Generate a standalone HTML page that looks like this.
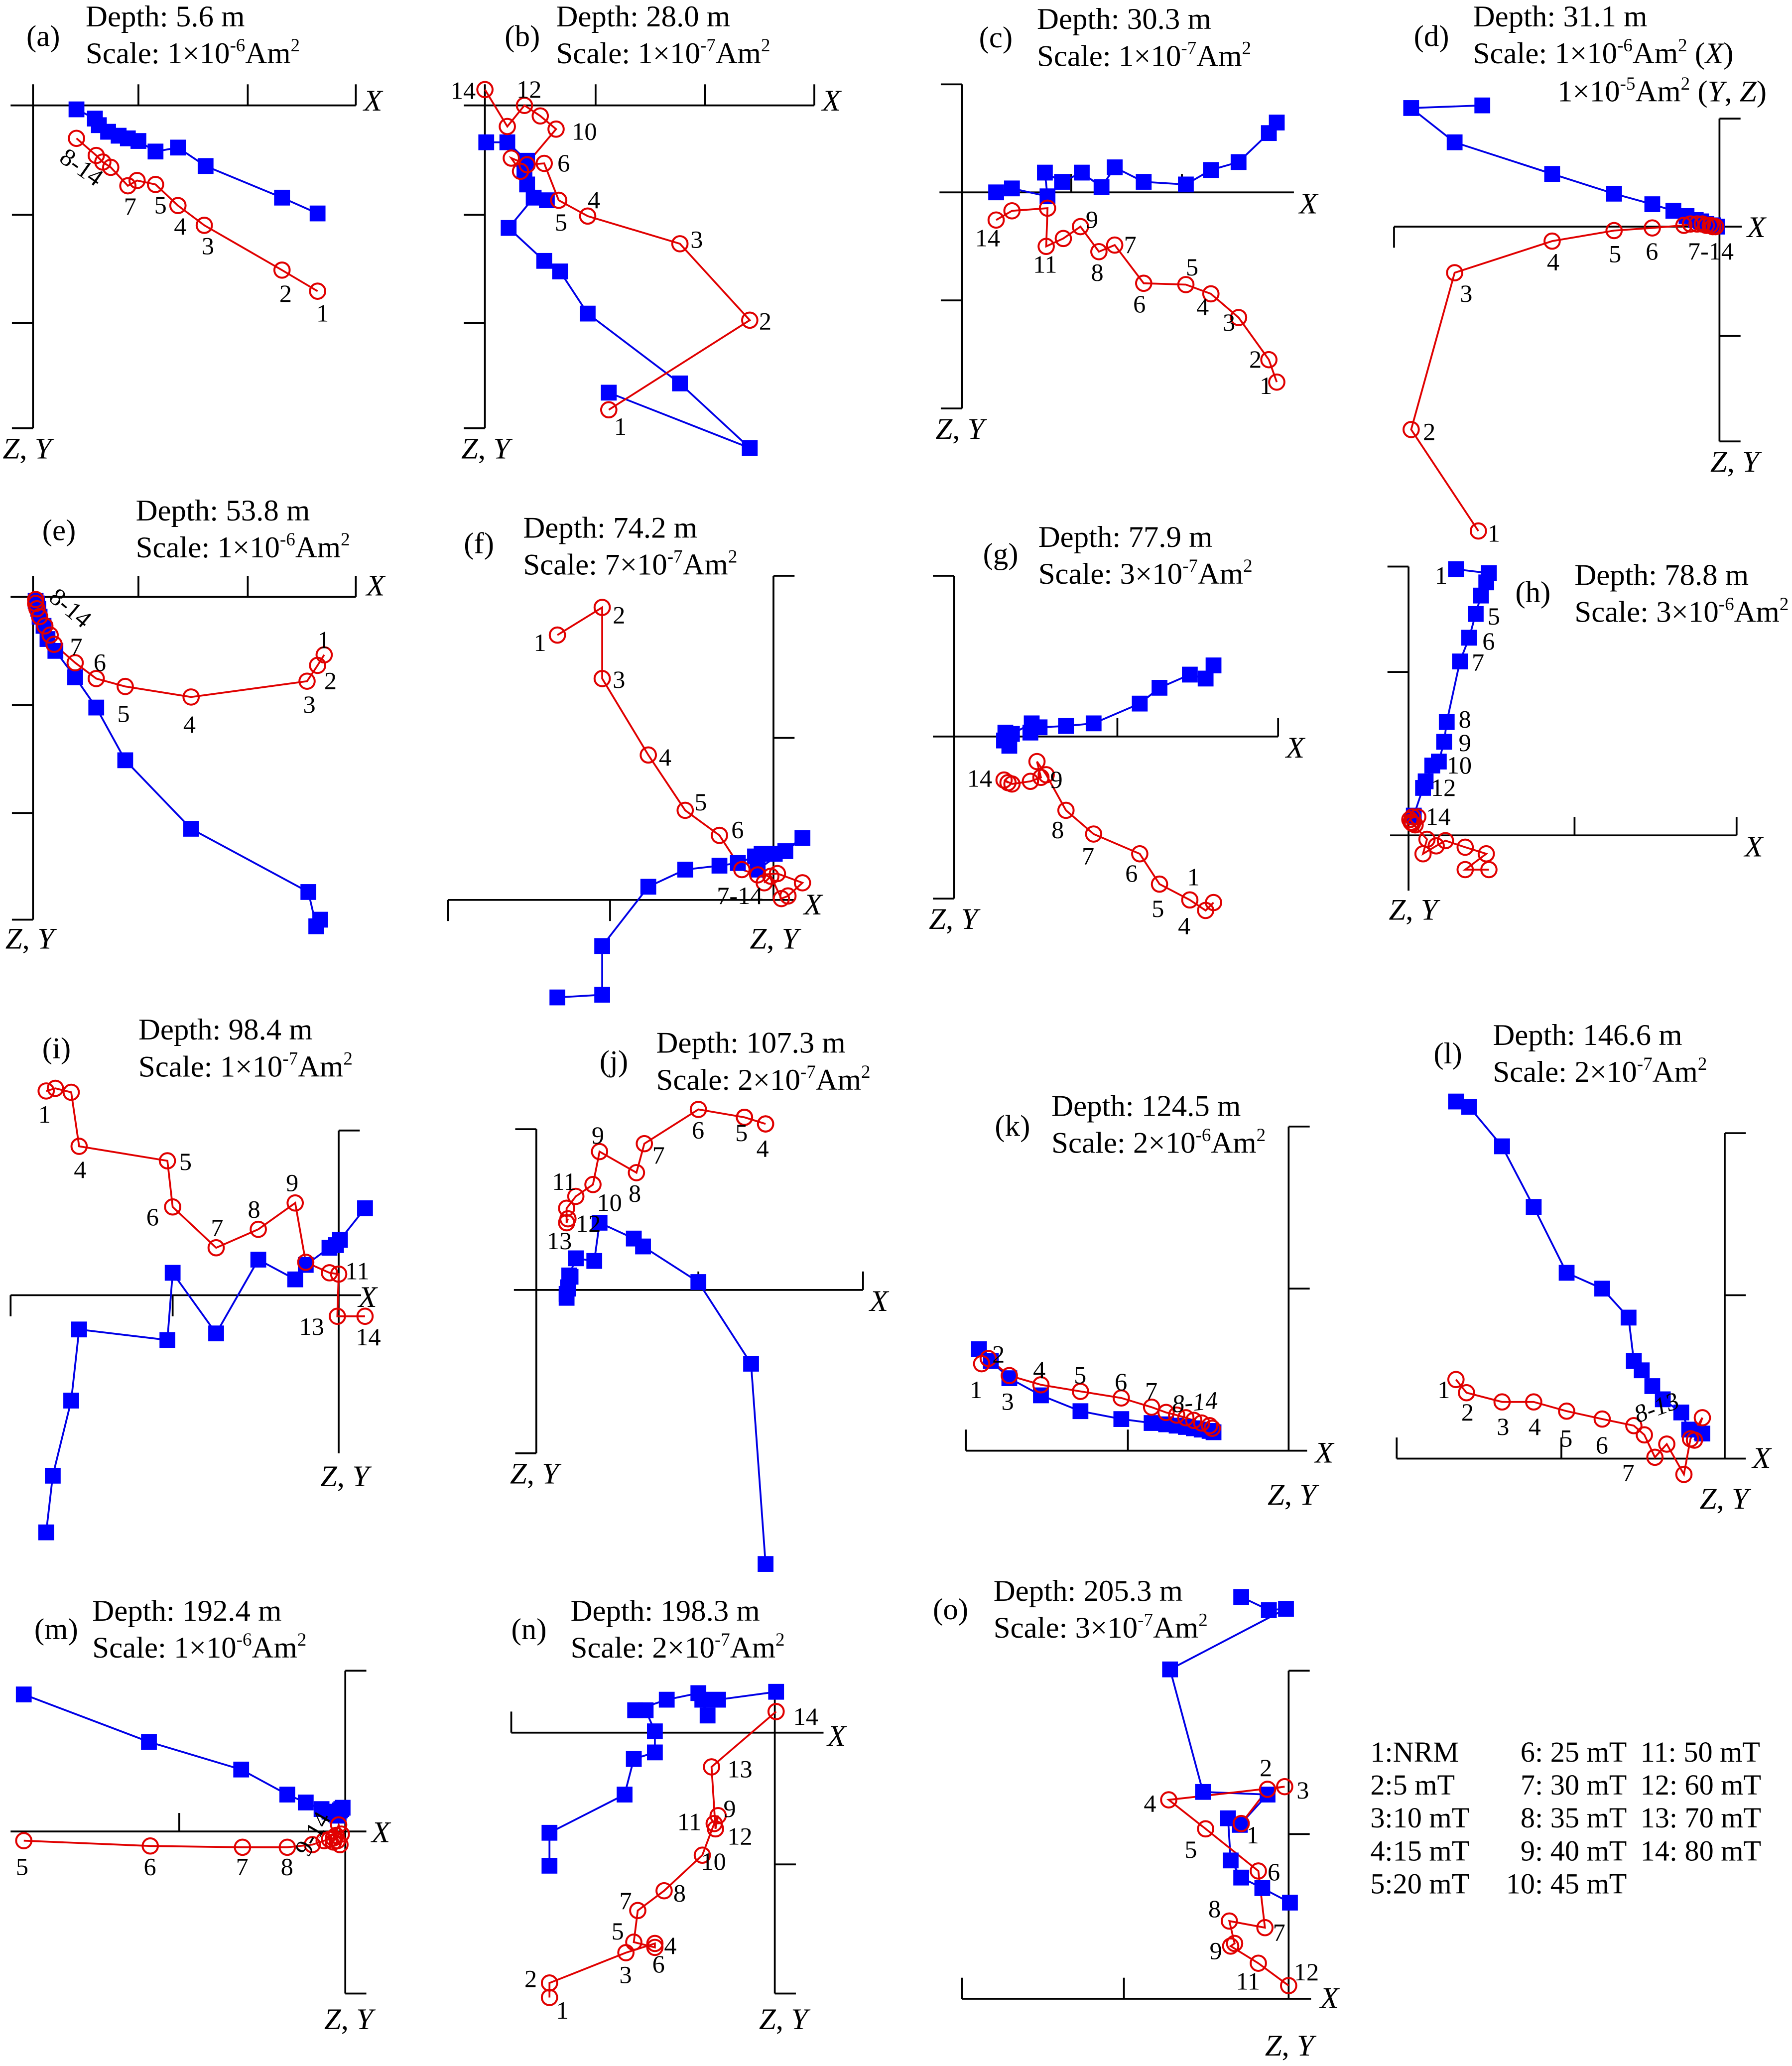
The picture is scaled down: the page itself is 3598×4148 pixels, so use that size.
<!DOCTYPE html>
<html><head><meta charset="utf-8"><style>
html,body{margin:0;padding:0;background:#fff;}
svg{display:block;}
text{font-family:"Liberation Serif",serif;fill:#000;}
.t{font-size:23px;}
.l{font-size:19px;}
.ax{font-size:23px;font-style:italic;}
.lg{font-size:22px;}
</style></head><body>
<svg id="fig" xmlns="http://www.w3.org/2000/svg" width="3598" height="4148" viewBox="0 0 1360 1568">
<rect width="1360" height="1568" fill="#fff"/>
<g id="axes" stroke="#000" stroke-width="1.4" fill="none"></g>
<g id="marks"></g>
<g id="texts">
<text class="t" x="20" y="35">(a)</text>
<text class="t" x="65" y="20">Depth: 5.6 m</text>
<text class="t" x="65" y="48">Scale: 1×10<tspan font-size="14" dy="-9">-6</tspan><tspan dy="9">Am</tspan><tspan font-size="14" dy="-9">2</tspan></text>
<text class="t" x="383" y="35">(b)</text>
<text class="t" x="422" y="20">Depth: 28.0 m</text>
<text class="t" x="422" y="48">Scale: 1×10<tspan font-size="14" dy="-9">-7</tspan><tspan dy="9">Am</tspan><tspan font-size="14" dy="-9">2</tspan></text>
<text class="t" x="743" y="36">(c)</text>
<text class="t" x="787" y="22">Depth: 30.3 m</text>
<text class="t" x="787" y="50">Scale: 1×10<tspan font-size="14" dy="-9">-7</tspan><tspan dy="9">Am</tspan><tspan font-size="14" dy="-9">2</tspan></text>
<text class="t" x="1073" y="35">(d)</text>
<text class="t" x="1118" y="20">Depth: 31.1 m</text>
<text class="t" x="1118" y="48">Scale: 1×10<tspan font-size="14" dy="-9">-6</tspan><tspan dy="9">Am</tspan><tspan font-size="14" dy="-9">2</tspan><tspan dy="9"> (</tspan><tspan font-style="italic">X</tspan>)</text>
<text class="t" x="1182" y="77">1×10<tspan font-size="14" dy="-9">-5</tspan><tspan dy="9">Am</tspan><tspan font-size="14" dy="-9">2</tspan><tspan dy="9"> (</tspan><tspan font-style="italic">Y</tspan>, <tspan font-style="italic">Z</tspan>)</text>
<text class="t" x="32" y="410">(e)</text>
<text class="t" x="103" y="395">Depth: 53.8 m</text>
<text class="t" x="103" y="423">Scale: 1×10<tspan font-size="14" dy="-9">-6</tspan><tspan dy="9">Am</tspan><tspan font-size="14" dy="-9">2</tspan></text>
<text class="t" x="352" y="420">(f)</text>
<text class="t" x="397" y="408">Depth: 74.2 m</text>
<text class="t" x="397" y="436">Scale: 7×10<tspan font-size="14" dy="-9">-7</tspan><tspan dy="9">Am</tspan><tspan font-size="14" dy="-9">2</tspan></text>
<text class="t" x="746" y="428">(g)</text>
<text class="t" x="788" y="415">Depth: 77.9 m</text>
<text class="t" x="788" y="443">Scale: 3×10<tspan font-size="14" dy="-9">-7</tspan><tspan dy="9">Am</tspan><tspan font-size="14" dy="-9">2</tspan></text>
<text class="t" x="1150" y="457">(h)</text>
<text class="t" x="1195" y="444">Depth: 78.8 m</text>
<text class="t" x="1195" y="472">Scale: 3×10<tspan font-size="14" dy="-9">-6</tspan><tspan dy="9">Am</tspan><tspan font-size="14" dy="-9">2</tspan></text>
<text class="t" x="32" y="803">(i)</text>
<text class="t" x="105" y="789">Depth: 98.4 m</text>
<text class="t" x="105" y="817">Scale: 1×10<tspan font-size="14" dy="-9">-7</tspan><tspan dy="9">Am</tspan><tspan font-size="14" dy="-9">2</tspan></text>
<text class="t" x="455" y="813">(j)</text>
<text class="t" x="498" y="799">Depth: 107.3 m</text>
<text class="t" x="498" y="827">Scale: 2×10<tspan font-size="14" dy="-9">-7</tspan><tspan dy="9">Am</tspan><tspan font-size="14" dy="-9">2</tspan></text>
<text class="t" x="755" y="862">(k)</text>
<text class="t" x="798" y="847">Depth: 124.5 m</text>
<text class="t" x="798" y="875">Scale: 2×10<tspan font-size="14" dy="-9">-6</tspan><tspan dy="9">Am</tspan><tspan font-size="14" dy="-9">2</tspan></text>
<text class="t" x="1088" y="807">(l)</text>
<text class="t" x="1133" y="793">Depth: 146.6 m</text>
<text class="t" x="1133" y="821">Scale: 2×10<tspan font-size="14" dy="-9">-7</tspan><tspan dy="9">Am</tspan><tspan font-size="14" dy="-9">2</tspan></text>
<text class="t" x="26" y="1244">(m)</text>
<text class="t" x="70" y="1230">Depth: 192.4 m</text>
<text class="t" x="70" y="1258">Scale: 1×10<tspan font-size="14" dy="-9">-6</tspan><tspan dy="9">Am</tspan><tspan font-size="14" dy="-9">2</tspan></text>
<text class="t" x="388" y="1244">(n)</text>
<text class="t" x="433" y="1230">Depth: 198.3 m</text>
<text class="t" x="433" y="1258">Scale: 2×10<tspan font-size="14" dy="-9">-7</tspan><tspan dy="9">Am</tspan><tspan font-size="14" dy="-9">2</tspan></text>
<text class="t" x="708" y="1229">(o)</text>
<text class="t" x="754" y="1215">Depth: 205.3 m</text>
<text class="t" x="754" y="1243">Scale: 3×10<tspan font-size="14" dy="-9">-7</tspan><tspan dy="9">Am</tspan><tspan font-size="14" dy="-9">2</tspan></text>

<g>
<text class="lg" x="1040" y="1337">1:NRM</text>
<text class="lg" x="1040" y="1362">2:5 mT</text>
<text class="lg" x="1040" y="1387">3:10 mT</text>
<text class="lg" x="1040" y="1412">4:15 mT</text>
<text class="lg" x="1040" y="1437">5:20 mT</text>
<text class="lg" x="1154" y="1337">6: 25 mT</text>
<text class="lg" x="1154" y="1362">7: 30 mT</text>
<text class="lg" x="1154" y="1387">8: 35 mT</text>
<text class="lg" x="1154" y="1412">9: 40 mT</text>
<text class="lg" x="1143" y="1437">10: 45 mT</text>
<text class="lg" x="1245" y="1337">11: 50 mT</text>
<text class="lg" x="1245" y="1362">12: 60 mT</text>
<text class="lg" x="1245" y="1387">13: 70 mT</text>
<text class="lg" x="1245" y="1412">14: 80 mT</text>
</g>
</g>
</svg>
<script>
const blueA=[[216,82],[189,70],[131,46],[110,32],[93,35],[80,27],[72,25],[65,23],[57,20],[50,15],[47,10],[33,3]];
const redA=[[216,141],[189,125],[130,91],[110,76],[93,60],[79,57],[72,61],[59,47],[53,43],[48,38],[33,25]];
const blueB=[[94,218],[201,260],[148,211],[78,158],[57,126],[45,118],[18,93],[37,70],[47,72],[32,60],[30,50],[32,42],[17,28],[1,28]];
const redB=[[94,231],[201,163],[148,105],[78,84],[56,72],[45,44],[32,45],[20,40],[27,50],[54,18],[42,8],[30,0],[17,16],[0,-12]];
const blueC=[[239,-53],[233,-45],[210,-23],[189,-17],[170,-6],[138,-8],[116,-19],[106,-4],[91,-15],[76,-8],[63,-15],[65,3],[38,-3],[26,0]];
const redC=[[239,144],[233,127],[210,95],[189,77],[170,70],[138,69],[116,40],[104,45],[90,26],[77,35],[64,41],[65,12],[38,14],[26,21]];
const blueD=[[-180,-92],[-234,-90],[-201,-64],[-127,-40],[-80,-25],[-51,-17],[-35,-12],[-25,-8],[-18,-5],[-14,-4],[-10,-2],[-7,-1],[-5,-1],[-2,0]];
const redD=[[-183,231],[-234,154],[-201,35],[-127,11],[-80,3],[-51,1],[-27,-1],[-22,-2],[-17,-2],[-13,-2],[-10,-1],[-7,-1],[-5,0],[-3,0]];
const blueE=[[218,245],[215,250],[209,224],[120,176],[70,124],[48,84],[32,61],[17,41],[11,32],[8,22],[5,15],[4,9],[3,5],[2,3]];
const redE=[[221,44],[216,52],[208,64],[120,76],[70,68],[48,62],[32,50],[16,36],[13,29],[9,22],[5,15],[3,9],[2,5],[2,2]];
const blueF=[[-164,74],[-130,72],[-130,35],[-95,-10],[-67,-23],[-41,-26],[-27,-28],[-14,-33],[-9,-35],[-4,-35],[1,-35],[9,-37],[22,-47],[-12,-23]];
const redF=[[-164,-201],[-130,-222],[-130,-168],[-95,-110],[-67,-68],[-41,-49],[-24,-23],[-12,-19],[3,-20],[22,-13],[11,-3],[6,-1],[-2,-18],[-7,-13]];
const blueG=[[197,-54],[191,-44],[179,-47],[156,-37],[141,-25],[106,-10],[85,-8],[65,-7],[58,-3],[59,-10],[44,-2],[39,-3],[38,3],[42,7]];
const redG=[[197,126],[191,132],[179,124],[156,112],[141,89],[106,74],[85,56],[70,29],[63,19],[66,31],[58,34],[44,36],[38,33],[41,35]];
const blueH=[[36,-202],[61,-199],[59,-192],[55,-182],[51,-168],[46,-150],[39,-132],[29,-86],[27,-71],[23,-56],[18,-53],[13,-41],[11,-36],[4,-15]];
const redH=[[61,26],[43,26],[59,14],[43,9],[28,4],[21,8],[11,14],[14,3],[3,-9],[7,-14],[1,-12],[5,-8],[3,-14],[2,-10]];
const blueI=[[-222,180],[-217,137],[-203,80],[-197,26],[-130,34],[-126,-17],[-93,29],[-61,-27],[-33,-12],[-25,-23],[-7,-36],[-2,-38],[1,-42],[20,-66]];
const redI=[[-222,-155],[-215,-157],[-203,-154],[-197,-113],[-130,-102],[-126,-67],[-93,-36],[-61,-50],[-33,-70],[-25,-25],[-7,-17],[0,-16],[-1,16],[20,16]];
const blueJ=[[174,208],[163,56],[123,-6],[81,-33],[74,-39],[48,-51],[44,-22],[30,-24],[25,-11],[23,3],[24,-1],[26,-10],[23,6],[24,-2]];
const redJ=[[158,-131],[174,-126],[158,-131],[174,-126],[158,-131],[123,-137],[82,-111],[76,-89],[48,-105],[43,-80],[30,-71],[23,-62],[23,-51],[24,-54]];
const blueK=[[-235,-77],[-226,-68],[-212,-55],[-188,-42],[-158,-30],[-127,-24],[-104,-21],[-93,-20],[-85,-19],[-78,-18],[-72,-17],[-66,-16],[-60,-15],[-57,-14]];
const redK=[[-233,-66],[-228,-70],[-212,-57],[-188,-50],[-158,-45],[-127,-40],[-104,-33],[-93,-29],[-85,-27],[-78,-25],[-72,-23],[-66,-21],[-60,-19],[-58,-17]];
const blueL=[[-204,-271],[-194,-267],[-169,-237],[-145,-191],[-120,-141],[-93,-129],[-73,-107],[-69,-74],[-63,-67],[-55,-55],[-47,-45],[-33,-35],[-27,-22],[-17,-19]];
const redL=[[-204,-60],[-196,-50],[-169,-43],[-145,-43],[-120,-36],[-93,-30],[-69,-25],[-61,-18],[-53,-1],[-44,-11],[-31,12],[-26,-15],[-17,-31],[-23,-14]];
const blueM=[[-244,-104],[-149,-68],[-79,-47],[-44,-28],[-30,-22],[-18,-17],[-12,-15],[-9,-14],[-7,-13],[-5,-14],[-4,-16],[-3,-17],[-2,-18],[-6,-12]];
const redM=[[-244,7],[-148,11],[-78,12],[-44,12],[-25,10],[-16,7],[-12,6],[-9,5],[-6,7],[-4,10],[-7,3],[-3,2],[-5,-5],[-9,8]];
const blueN=[[-171,101],[-171,76],[-114,47],[-107,20],[-91,15],[-91,-1],[-98,-17],[-106,-17],[-82,-25],[-58,-30],[-51,-13],[-55,-25],[-43,-25],[1,-31]];
const redN=[[-171,201],[-171,190],[-113,167],[-91,160],[-91,163],[-107,159],[-104,135],[-84,120],[-55,93],[-46,69],[-43,63],[-45,73],[-48,26],[1,-16]];
const blueO=[[-36,-305],[-15,-295],[-2,-296],[-90,-250],[-65,-157],[-16,-155],[-37,-132],[-46,-137],[-44,-105],[-36,-92],[-20,-84],[1,-73]];
const redO=[[-36,-133],[-16,-159],[-3,-161],[-91,-151],[-63,-129],[-23,-97],[-18,-54],[-45,-59],[-41,-42],[-44,-40],[-23,-27],[0,-10]];

const labelsA=[["1",215,164],["2",187,149],["3",128,113],["4",107,98],["5",92,82],["7",69,83]];
const labelsB=[["1",98,250],["2",208,170],["3",156,108],["4",78,78],["5",53,95],["6",55,50],["10",66,26],["12",24,-6],["14",-26,-5]];
const labelsC=[["1",226,153],["2",218,133],["3",198,105],["4",178,93],["5",170,63],["6",130,91],["7",123,46],["8",98,67],["9",94,27],["11",54,61],["14",10,41]];
const labelsD=[["1",-176,239],["2",-225,162],["3",-197,57],["4",-131,33],["5",-84,27],["6",-56,25],["7-14",-24,25]];
const labelsE=[["1",216,39],["2",221,70],["3",205,88],["4",114,103],["5",64,95],["6",46,56],["7",28,44]];
const labelsF=[["1",-182,-189],["2",-122,-210],["3",-122,-161],["4",-87,-102],["5",-60,-68],["6",-32,-47],["7-14",-43,3]];
const labelsG=[["1",177,113],["4",170,150],["5",150,137],["6",130,110],["7",97,97],["8",74,77],["9",73,39],["14",10,38]];
const labelsH=[["1",20,-191],["5",60,-160],["6",56,-141],["7",48,-125],["8",38,-82],["9",38,-64],["10",29,-47],["12",17,-30],["14",13,-8]];
const labelsI=[["1",-228,-131],["4",-201,-89],["5",-121,-95],["6",-146,-53],["7",-97,-45],["8",-69,-59],["9",-40,-79],["11",5,-12],["13",-30,30],["14",13,38]];
const labelsJ=[["4",167,-101],["5",151,-113],["6",118,-115],["7",88,-96],["8",70,-67],["9",42,-111],["10",46,-60],["11",12,-76],["12",30,-44],["13",8,-31]];
const labelsK=[["1",-242,-40],["2",-225,-67],["3",-218,-31],["4",-194,-55],["5",-163,-51],["6",-132,-46],["7",-109,-39]];
const labelsL=[["1",-218,-46],["2",-200,-29],["3",-173,-18],["4",-149,-18],["5",-125,-9],["6",-98,-4],["7",-78,17]];
const labelsM=[["5",-250,33],["6",-153,33],["7",-83,33],["8",-49,33]];
const labelsN=[["1",-166,217],["2",-190,193],["3",-118,190],["4",-84,168],["5",-124,157],["6",-93,182],["7",-118,134],["8",-77,128],["9",-39,64],["10",-56,104],["11",-74,74],["12",-36,85],["13",-36,34],["14",14,-6]];
const labelsO=[["1",-32,-118],["2",-22,-169],["3",6,-152],["4",-110,-142],["5",-79,-107],["6",-16,-90],["7",-12,-44],["8",-61,-62],["9",-60,-30],["11",-40,-7],["12",4,-14]];

const panels=[
 {id:"a",ox:25,oy:80,blue:blueA,red:redA,labels:labelsA,xa:[8,270],ya:[64,325],ticks:[[105,80,0,-16],[188,80,0,-16],[270,80,0,-16],[25,163,-16,0],[25,245,-16,0],[25,325,-16,0]],xl:[276,84],zl:[2,348]},
 {id:"b",ox:368,oy:80,blue:blueB,red:redB,labels:labelsB,xa:[352,618],ya:[64,325],ticks:[[452,80,0,-16],[535,80,0,-16],[618,80,0,-16],[368,163,-16,0],[368,245,-16,0],[368,325,-16,0]],xl:[624,84],zl:[350,348]},
 {id:"c",ox:730,oy:146,blue:blueC,red:redC,labels:labelsC,xa:[713,982],ya:[64,310],ticks:[[813,146,0,-14],[897,146,0,-14],[730,64,-16,0],[730,228,-16,0],[730,310,-16,0]],xl:[986,162],zl:[710,333]},
 {id:"d",ox:1305,oy:172,blue:blueD,red:redD,labels:labelsD,xa:[1058,1322],ya:[90,335],ticks:[[1058,172,0,16],[1305,90,16,0],[1305,255,16,0],[1305,335,16,0]],xl:[1326,180],zl:[1298,358]},
 {id:"e",ox:25,oy:453,blue:blueE,red:redE,labels:labelsE,xa:[8,270],ya:[437,698],ticks:[[105,453,0,-16],[188,453,0,-16],[270,453,0,-16],[25,535,-16,0],[25,617,-16,0],[25,698,-16,0]],xl:[278,452],zl:[4,720]},
 {id:"f",ox:587,oy:683,blue:blueF,red:redF,labels:labelsF,xa:[340,603],ya:[437,683],ticks:[[340,683,0,16],[463,683,0,16],[587,437,16,0],[587,560,16,0]],xl:[610,694],zl:[569,720]},
 {id:"g",ox:724,oy:559,blue:blueG,red:redG,labels:labelsG,xa:[708,970],ya:[437,682],ticks:[[848,559,0,-14],[970,559,0,-14],[724,437,-16,0],[724,682,-16,0]],xl:[976,575],zl:[705,705]},
 {id:"h",ox:1069,oy:634,blue:blueH,red:redH,labels:labelsH,xa:[1055,1318],ya:[430,676],ticks:[[1195,634,0,-14],[1318,634,0,-14],[1069,430,-16,0],[1069,510,-16,0]],xl:[1324,650],zl:[1054,698]},
 {id:"i",ox:257,oy:983,blue:blueI,red:redI,labels:labelsI,xa:[8,274],ya:[858,1103],ticks:[[8,983,0,16],[131,983,0,16],[257,858,16,0]],xl:[272,992],zl:[243,1128]},
 {id:"j",ox:407,oy:979,blue:blueJ,red:redJ,labels:labelsJ,xa:[390,655],ya:[857,1103],ticks:[[530,979,0,-14],[655,979,0,-14],[407,857,-16,0],[407,1103,-16,0]],xl:[660,995],zl:[387,1126]},
 {id:"k",ox:978,oy:1101,blue:blueK,red:redK,labels:labelsK,xa:[733,992],ya:[855,1101],ticks:[[733,1101,0,-16],[856,1101,0,-16],[978,855,16,0],[978,978,16,0]],xl:[998,1110],zl:[962,1142]},
 {id:"l",ox:1309,oy:1107,blue:blueL,red:redL,labels:labelsL,xa:[1060,1325],ya:[860,1107],ticks:[[1060,1107,0,-16],[1185,1107,0,-16],[1309,860,16,0],[1309,983,16,0]],xl:[1330,1114],zl:[1290,1145]},
 {id:"m",ox:262,oy:1390,blue:blueM,red:redM,labels:labelsM,xa:[8,278],ya:[1268,1513],ticks:[[136,1390,0,-14],[262,1268,16,0],[262,1513,16,0]],xl:[282,1398],zl:[246,1540]},
 {id:"n",ox:588,oy:1315,blue:blueN,red:redN,labels:labelsN,xa:[388,625],ya:[1285,1513],ticks:[[388,1315,0,-16],[588,1415,16,0],[588,1513,16,0]],xl:[628,1325],zl:[576,1540]},
 {id:"o",ox:978,oy:1517,blue:blueO,red:redO,labels:labelsO,xa:[730,995],ya:[1268,1517],ticks:[[730,1517,0,-16],[853,1517,0,-16],[978,1268,16,0],[978,1392,16,0]],xl:[1002,1524],zl:[960,1560]}
];

const NS="http://www.w3.org/2000/svg";
const axesG=document.getElementById("axes");
const marksG=document.getElementById("marks");
const textG=document.getElementById("texts");
function mk(tag,attrs,parent){const e=document.createElementNS(NS,tag);for(const k in attrs)e.setAttribute(k,attrs[k]);parent.appendChild(e);return e;}
const k=1;
function px(p,v){return p.ox+v*k;}
function py(p,v){return p.oy+v*k;}

panels.forEach(p=>{
  const g=mk("g",{},axesG);
  
  
  const xl=mk("line",{x1:p.xa[0],y1:p.oy,x2:p.xa[1],y2:p.oy},g);
  
  
  const yl=mk("line",{x1:p.ox,y1:p.ya[0],x2:p.ox,y2:p.ya[1]},g);
  
  
  p.ticks.forEach(t=>{
    const tk=mk("line",{x1:t[0],y1:t[1],x2:t[0]+t[2],y2:t[1]+t[3]},g);
    
    
  });
  const xt=mk("text",{x:p.xl[0],y:p.xl[1],class:"ax"},textG);
  xt.textContent="X";
  
  
  const zt=mk("text",{x:p.zl[0],y:p.zl[1],class:"ax"},textG);
  zt.innerHTML='Z<tspan font-style="normal">,</tspan> Y';
  
  

  const mg=mk("g",{},marksG);
  
  
  const bpts=p.blue.map(d=>px(p,d[0])+","+py(p,d[1])).join(" ");
  const bl=mk("polyline",{points:bpts,fill:"none",stroke:"#0000e6","stroke-width":1.4},mg);
  
  
  const rpts=p.red.map(d=>px(p,d[0])+","+py(p,d[1])).join(" ");
  const rl=mk("polyline",{points:rpts,fill:"none",stroke:"#e00000","stroke-width":1.4},mg);
  
  
  p.blue.forEach(d=>{
    const s=mk("rect",{x:px(p,d[0])-6,y:py(p,d[1])-6,width:12,height:12,fill:"#0000ff"},mg);
    
    
  });
  p.red.forEach(d=>{
    const c=mk("circle",{cx:px(p,d[0]),cy:py(p,d[1]),r:5.8,fill:"none",stroke:"#e00000","stroke-width":1.5},mg);
    
    
  });
  p.labels.forEach(l=>{
    const t=mk("text",{x:px(p,l[1]),y:py(p,l[2]),class:"l"},textG);
    t.textContent=l[0];
    
    
  });
});
[["8-14",44,122,35],["8-14",36,455,40],["9-14",234,1410,-60],["8-13",1243,1080,-20],["8-14",890,1072,-5]].forEach(r=>{
  const t=mk("text",{x:r[1],y:r[2],class:"l",transform:"rotate("+r[3]+" "+r[1]+" "+r[2]+")","font-style":(r[0]==="8-14"&&r[1]>800)||r[0]==="8-13"?"italic":"normal"},textG);
  t.textContent=r[0];
  
  
});
</script>
</body></html>
